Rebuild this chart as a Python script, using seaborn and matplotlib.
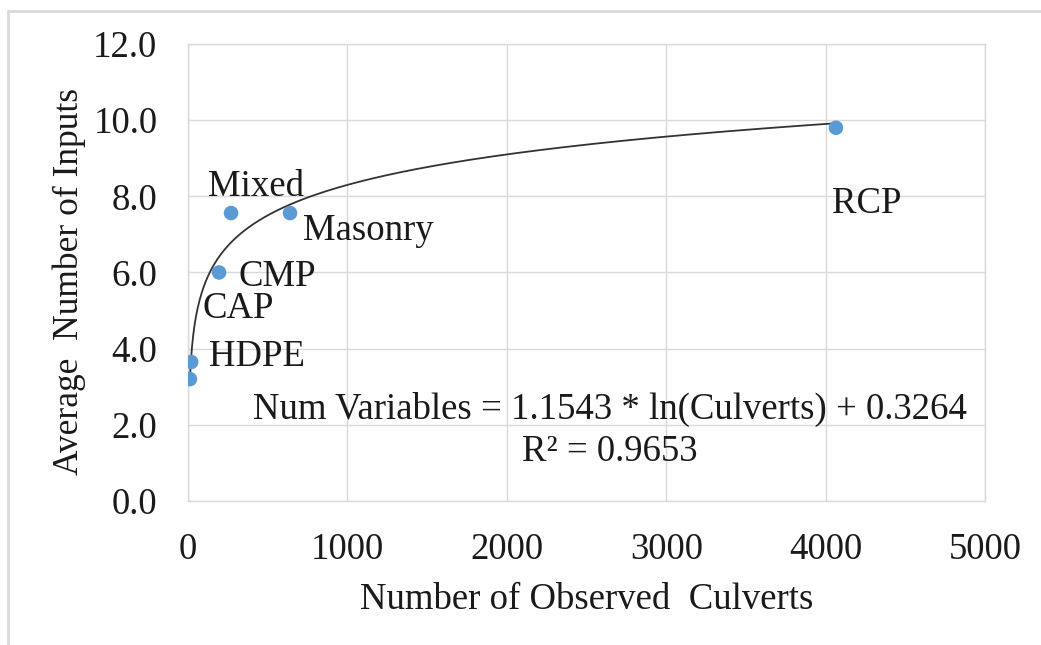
import numpy as np
import pandas as pd
import matplotlib
matplotlib.use("Agg")
import matplotlib.pyplot as plt
from matplotlib.lines import Line2D
import seaborn as sns

# Culvert materials: number of observed culverts vs. average number of inputs
materials = ["HDPE", "CAP", "CMP", "Mixed", "Masonry", "RCP"]
culverts = [20, 12, 195, 270, 640, 4065]
avg_inputs = [3.65, 3.20, 6.0, 7.56, 7.56, 9.80]

# Logarithmic trend: y = a * ln(x) + b
fit_a = 1.1543
fit_b = 0.3264
r_squared = 0.9653

x_ticks = [0, 1000, 2000, 3000, 4000, 5000]
y_ticks = [0.0, 2.0, 4.0, 6.0, 8.0, 10.0, 12.0]

df = pd.DataFrame({"material": materials, "culverts": culverts, "inputs": avg_inputs})

sns.set_theme(style="whitegrid")
plt.rcParams["font.family"] = ["Liberation Serif", "DejaVu Serif"]

FS = 26.5
TXT = "#1a1a1a"
GRID = "#d9d9d9"

fig = plt.figure(figsize=(10.41, 6.45), dpi=100)
ax = fig.add_axes([0.1806, 0.2233, 0.9462 - 0.1806, 0.9318 - 0.2233])

# trend curve across the observed range
xs = np.linspace(min(culverts), max(culverts), 600)
trend = pd.DataFrame({"x": xs, "y": fit_a * np.log(xs) + fit_b})
sns.lineplot(data=trend, x="x", y="y", ax=ax, color="#333333", linewidth=1.3, zorder=3)

sns.scatterplot(data=df, x="culverts", y="inputs", ax=ax, s=110, color="#5b9bd5",
                edgecolor="none", zorder=4)

# data labels (offsets in pixels from each point)
offsets = {
    "HDPE": (18, 5),
    "CAP": (13, 70),
    "CMP": (19, -4),
    "Mixed": (-23, 26),
    "Masonry": (13, -18),
    "RCP": (-4, -76),
}
for m, xv, yv in zip(materials, culverts, avg_inputs):
    dx, dy = offsets[m]
    ax.annotate(m, (xv, yv), xytext=(dx, dy), textcoords="offset pixels",
                ha="left", va="center", fontsize=FS, color=TXT, zorder=5)

ax.text(0.529, 0.201, f"Num Variables = {fit_a} * ln(Culverts) + {fit_b}",
        transform=ax.transAxes, ha="center", va="center", fontsize=FS, color=TXT)
ax.text(0.529, 0.107, f"R² = {r_squared}", transform=ax.transAxes,
        ha="center", va="center", fontsize=FS, color=TXT)

ax.set_xlim(0, 5000)
ax.set_ylim(0, 12)
ax.set_xticks(x_ticks)
ax.set_xticklabels([str(v) for v in x_ticks])
ax.set_yticks(y_ticks)
ax.set_yticklabels([f"{v:.1f}" for v in y_ticks])
ax.tick_params(axis="x", length=0, pad=23, labelsize=FS, labelcolor=TXT)
ax.tick_params(axis="y", length=0, pad=22, labelsize=FS, labelcolor=TXT)
ax.grid(True, color=GRID, linewidth=1.0)
for sp in ax.spines.values():
    sp.set_color(GRID)
    sp.set_linewidth(1.0)

ax.set_xlabel("Number of Observed  Culverts", fontsize=FS, color=TXT, labelpad=11)
ax.set_ylabel("Average  Number of Inputs", fontsize=25.5, color=TXT)
ax.yaxis.set_label_coords(-0.128, 0.48)

# chart area frame
fig.add_artist(Line2D([8 / 1041, 1.0], [1 - 11 / 645, 1 - 11 / 645],
                      transform=fig.transFigure, color=GRID, linewidth=2))
fig.add_artist(Line2D([8 / 1041, 8 / 1041], [0.0, 1 - 11 / 645],
                      transform=fig.transFigure, color=GRID, linewidth=2))

fig.savefig("out.png", dpi=100, facecolor="white")
